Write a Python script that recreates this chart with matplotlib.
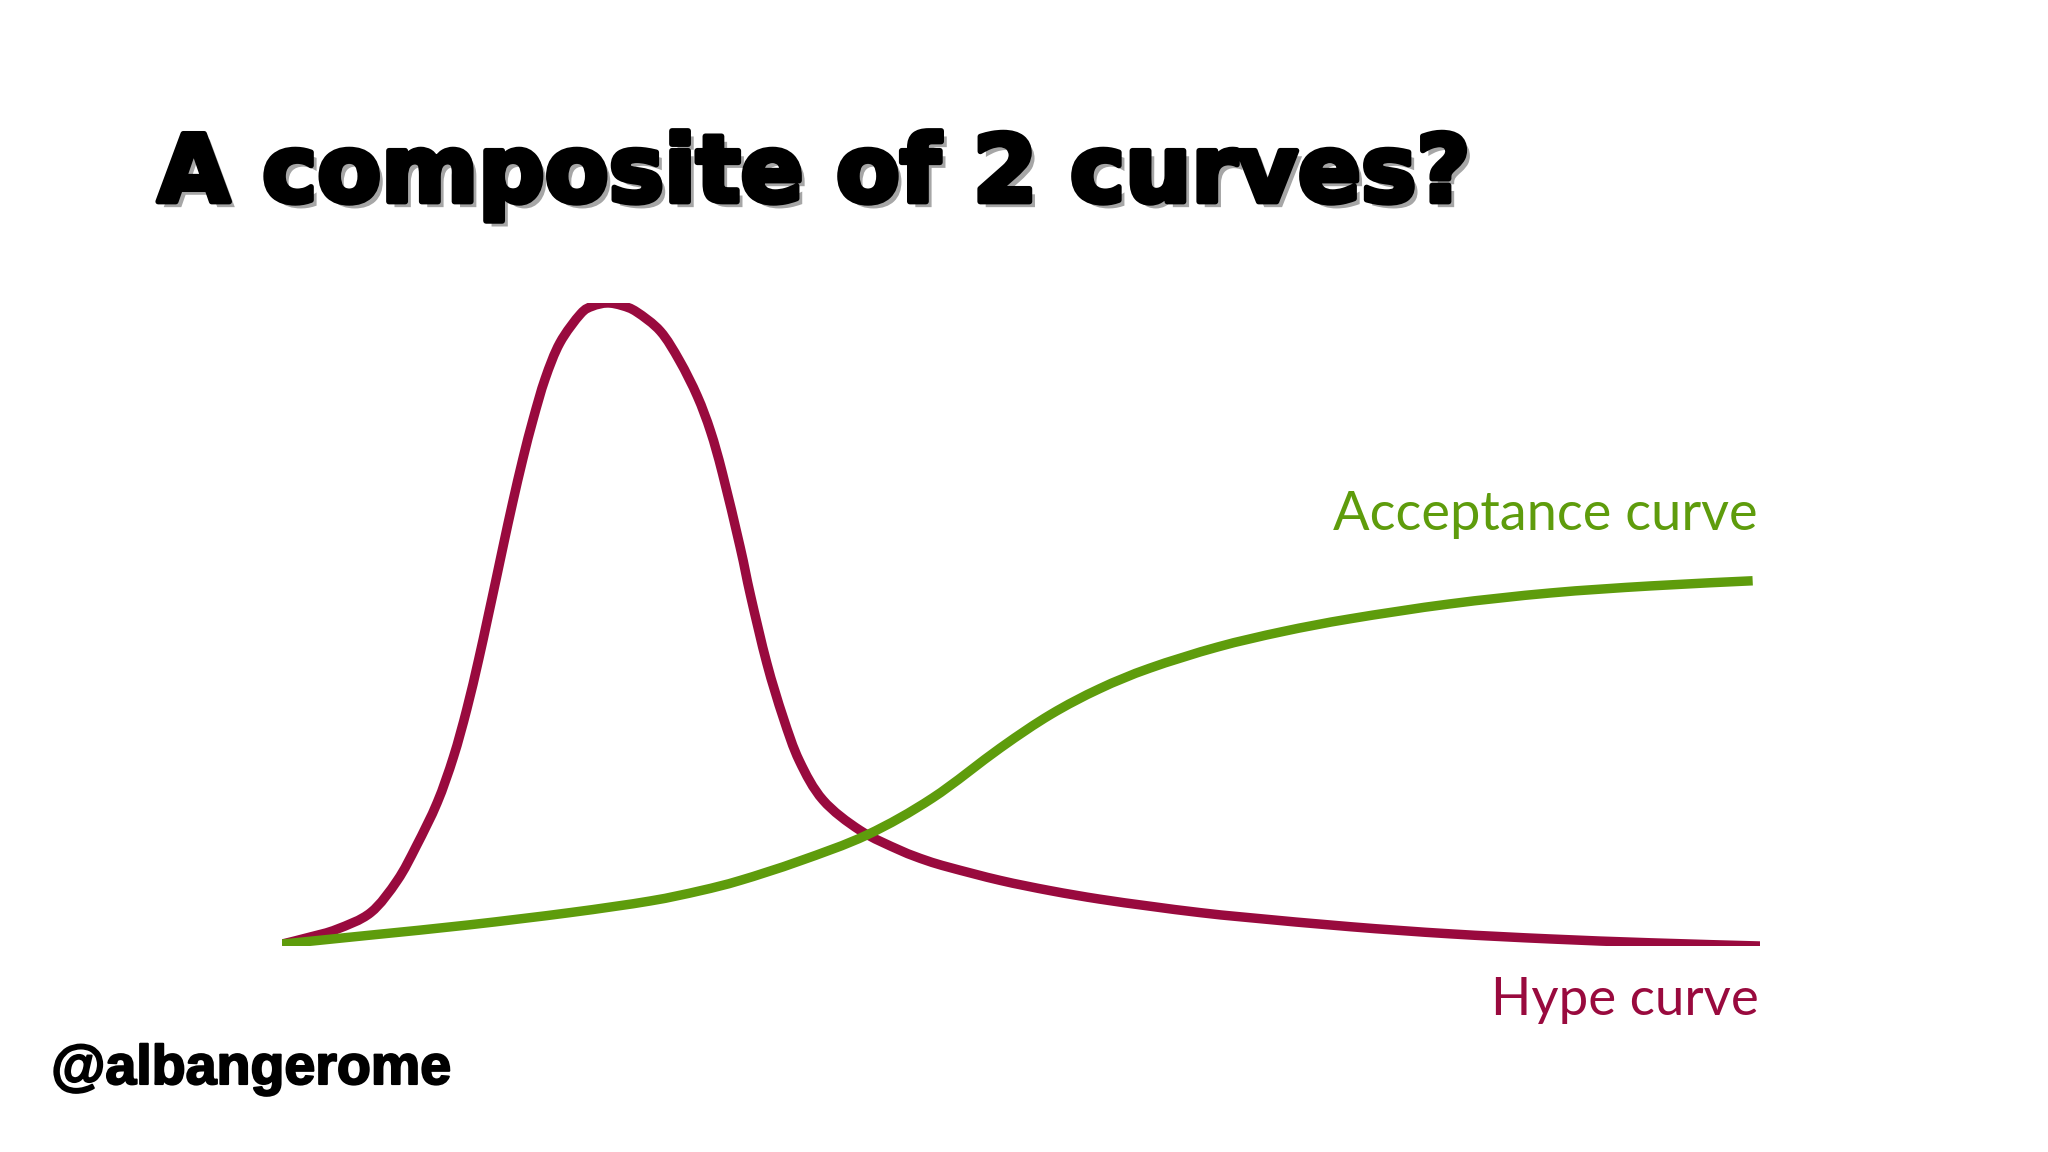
import matplotlib.pyplot as plt
import matplotlib.patheffects as pe
from matplotlib.path import Path
from matplotlib.patches import PathPatch

# time axis (0..100) and level (0..100)
hype_x = [0, 1.9, 3.7, 6.0, 7.8, 9.1, 10.5, 11.6, 12.5, 13.3, 13.9, 14.5, 15.0, 15.6,
          16.3, 17.0, 17.8, 18.8, 20.2, 21.0, 22.0, 23.0, 24.0, 25.6, 26.9, 28.1,
          29.0, 29.8, 31.0, 31.7, 32.8, 33.9, 35.0, 36.6, 39.1, 41.8, 43.6, 45.2,
          48.6, 52.0, 55.3, 58.7, 62.1, 65.5, 72.3, 79.0, 85.8, 92.6, 100]
hype_y = [0.3, 1.4, 2.6, 5.2, 10.2, 15.6, 22.3, 29.4, 36.8, 44.5, 50.8, 57.2, 62.6, 68.9,
          75.8, 82.0, 88.2, 93.8, 98.3, 99.5, 100, 99.6, 98.6, 95.6, 91.0, 85.5,
          80.0, 73.5, 62.0, 54.5, 44.0, 35.6, 28.8, 22.7, 18.0, 14.9, 13.3, 12.2,
          10.2, 8.6, 7.3, 6.2, 5.2, 4.4, 3.0, 1.9, 1.1, 0.5, 0]

accept_x = [0, 6.0, 12.7, 19.5, 24.9, 28.3, 31.0, 35.0, 39.6, 44.0, 48.6, 52.0, 55.3,
            58.7, 63.3, 67.7, 72.3, 79.0, 85.8, 92.6, 99.5]
accept_y = [0.3, 1.7, 3.3, 5.2, 7.0, 8.6, 10.2, 13.2, 17.3, 23.0, 30.8, 36.0, 40.0,
            43.2, 46.5, 48.9, 50.9, 53.2, 54.9, 56.0, 56.8]

title = "A composite of 2 curves?"
hype_label = "Hype curve"
accept_label = "Acceptance curve"
handle = "@albangerome"

hype_color = "#990A3E"
accept_color = "#5E9C0C"


def smooth_path(xs, ys):
    # bezier segments through the read points (catmull-rom style handles)
    pts = list(zip(xs, ys))
    verts = [pts[0]]
    codes = [Path.MOVETO]
    n = len(pts)
    for i in range(n - 1):
        p0 = pts[i - 1] if i > 0 else pts[i]
        p1 = pts[i]
        p2 = pts[i + 1]
        p3 = pts[i + 2] if i + 2 < n else p2
        c1 = (p1[0] + (p2[0] - p0[0]) / 6, p1[1] + (p2[1] - p0[1]) / 6)
        c2 = (p2[0] - (p3[0] - p1[0]) / 6, p2[1] - (p3[1] - p1[1]) / 6)
        verts += [c1, c2, p2]
        codes += [Path.CURVE4] * 3
    return Path(verts, codes)


fig = plt.figure(figsize=(20.48, 11.52), dpi=100)
fig.patch.set_facecolor("white")

ax = fig.add_axes([0.1377, 0.1788, 0.7217, 0.5582])
ax.add_patch(PathPatch(smooth_path(hype_x, hype_y), fill=False, edgecolor=hype_color,
                       lw=6.8, capstyle="butt", joinstyle="round"))
ax.add_patch(PathPatch(smooth_path(accept_x, accept_y), fill=False,
                       edgecolor=accept_color, lw=6.8, capstyle="butt",
                       joinstyle="round"))
ax.set_xlim(0, 100)
ax.set_ylim(0, 100)
ax.axis("off")

fig.text(0.077, 0.825, title, fontsize=67, fontweight="bold",
         family="DejaVu Sans", color="black",
         path_effects=[pe.SimplePatchShadow(offset=(4, -4), alpha=0.35),
                       pe.Stroke(linewidth=4, foreground="black"), pe.Normal()])

fig.text(0.858, 0.540, accept_label, fontsize=39, family="Lato",
         color=accept_color, ha="right")
fig.text(0.859, 0.119, hype_label, fontsize=38, family="Lato",
         color=hype_color, ha="right")

fig.text(0.025, 0.059, handle, fontsize=40, fontweight="bold",
         family="Liberation Sans", color="black",
         path_effects=[pe.Stroke(linewidth=1.5, foreground="black"), pe.Normal()])

fig.savefig("out.png", dpi=100, facecolor="white")
